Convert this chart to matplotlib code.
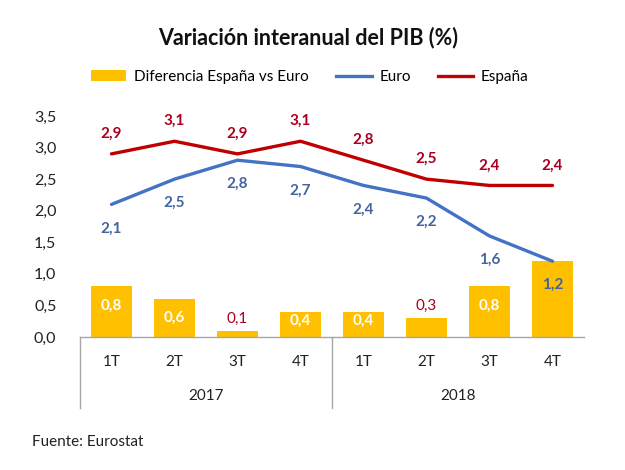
import matplotlib
matplotlib.use("Agg")
import matplotlib.pyplot as plt
import matplotlib.transforms as mtransforms
from matplotlib.patches import Patch
from matplotlib.lines import Line2D

plt.rcParams['font.family'] = ['Lato', 'DejaVu Sans']

quarters = ["1T", "2T", "3T", "4T", "1T", "2T", "3T", "4T"]
years = ["2017", "2018"]
euro = [2.1, 2.5, 2.8, 2.7, 2.4, 2.2, 1.6, 1.2]
espana = [2.9, 3.1, 2.9, 3.1, 2.8, 2.5, 2.4, 2.4]
diferencia = [0.8, 0.6, 0.1, 0.4, 0.4, 0.3, 0.8, 1.2]
yticks = [0.0, 0.5, 1.0, 1.5, 2.0, 2.5, 3.0, 3.5]

YELLOW = "#FFC000"
BLUE = "#4472C4"
RED = "#C00000"
BLUE_TXT = "#44649E"
RED_TXT = "#A8001E"

fig = plt.figure(figsize=(6.25, 4.7), dpi=100)
ax = fig.add_axes([80/625, 1-337/470, 504/625, 221/470])

x = list(range(len(quarters)))
ax.bar(x, diferencia, width=0.65, color=YELLOW, zorder=1)
ax.plot(x, euro, color=BLUE, lw=2.4, zorder=3, solid_capstyle='round')
ax.plot(x, espana, color=RED, lw=2.4, zorder=3, solid_capstyle='round')

ax.set_xlim(-0.5, len(quarters) - 0.5)
ax.set_ylim(0, 3.5)
ax.set_yticks(yticks)
ax.set_yticklabels([f"{v:.1f}".replace(".", ",") for v in yticks], fontsize=11.5, color="#222222")
ax.tick_params(axis='y', length=0, pad=17)
ax.set_xticks([])
for s in ["top", "right", "left"]:
    ax.spines[s].set_visible(False)
ax.spines["bottom"].set_color("#A6A6A6")
ax.spines["bottom"].set_linewidth(1)

def fmt(v):
    return f"{v:.1f}".replace(".", ",")

# line labels
for i, v in enumerate(espana):
    ax.annotate(fmt(v), (i, v), xytext=(0, 20), textcoords="offset pixels",
                ha="center", va="center", fontsize=11, fontweight="bold", color=RED_TXT, zorder=5)
for i, v in enumerate(euro):
    ax.annotate(fmt(v), (i, v), xytext=(0, -24), textcoords="offset pixels",
                ha="center", va="center", fontsize=11, fontweight="bold", color=BLUE_TXT, zorder=5)

# bar labels
for i, v in enumerate(diferencia):
    if i == len(diferencia) - 1:
        continue
    if v < 0.35:
        ax.annotate(fmt(v), (i, v), xytext=(0, 12), textcoords="offset pixels",
                    ha="center", va="center", fontsize=11, color=RED_TXT, zorder=5)
    else:
        pos = v - 0.3 if v >= 0.6 else v / 2 + 0.06
        ax.text(i, pos, fmt(v), ha="center", va="center", fontsize=11,
                fontweight="bold", color="white", zorder=5)

# category axis
trans = mtransforms.blended_transform_factory(ax.transData, fig.transFigure)
for i, q in enumerate(quarters):
    ax.text(i, 1-362/470, q, transform=trans, ha="center", va="center", fontsize=11, color="#222222")
for j, yr in enumerate(years):
    ax.text(1.5 + 4*j, 1-396/470, yr, transform=trans, ha="center", va="center", fontsize=11, color="#222222")
for xs in [-0.5, 3.5]:
    ax.add_line(Line2D([xs, xs], [1-337/470, 1-408/470], transform=trans,
                       color="#A6A6A6", lw=1, clip_on=False))

fig.text(308/625, 1-38/470, "Variación interanual del PIB (%)", ha="center", va="center",
         fontsize=15.5, fontweight="bold", color="#111111")

handles = [Patch(facecolor=YELLOW, edgecolor="none"),
           Line2D([0], [0], color=BLUE, lw=2.4),
           Line2D([0], [0], color=RED, lw=2.4)]
labels = ["Diferencia España vs Euro", "Euro", "España"]
fig.legend(handles, labels, loc="center", bbox_to_anchor=(310/625, 1-77/470), ncol=3,
           frameon=False, fontsize=11, handlelength=2.3, columnspacing=1.8, handletextpad=0.5)

fig.text(32/625, 1-442/470, "Fuente: Eurostat", ha="left", va="center", fontsize=11, color="#222222")

fig.savefig("out.png", dpi=100, facecolor="white")
